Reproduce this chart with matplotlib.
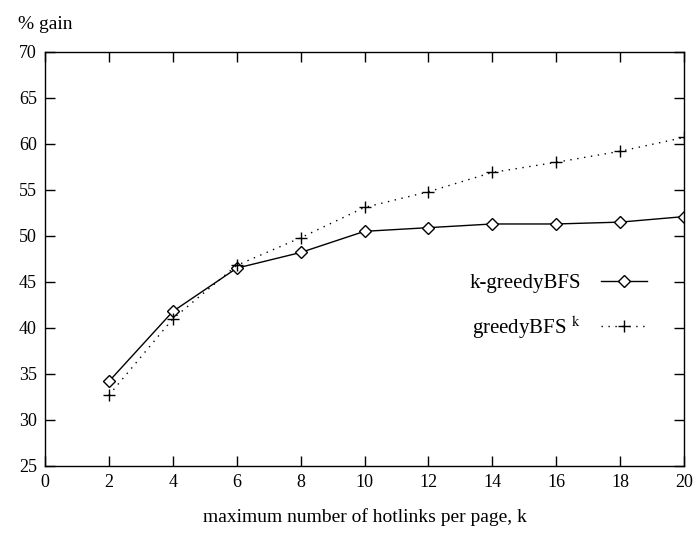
import matplotlib
matplotlib.use("Agg")
import matplotlib.pyplot as plt

k_values = [2, 4, 6, 8, 10, 12, 14, 16, 18, 20]
kgreedy_bfs = [34.2, 41.8, 46.5, 48.2, 50.5, 50.9, 51.3, 51.3, 51.5, 52.1]
greedy_bfs_k = [32.7, 41.0, 46.8, 49.8, 53.1, 54.8, 56.9, 58.0, 59.2, 60.7]

x_ticks = list(range(0, 21, 2))
y_ticks = list(range(25, 71, 5))

plt.rcParams["font.family"] = ["Liberation Serif", "DejaVu Serif"]
plt.rcParams["mathtext.fontset"] = "stix"

fig = plt.figure(figsize=(6.94, 5.35), dpi=100)
ax = fig.add_axes([0.065, 0.129, 0.9205, 0.774])

ax.plot(k_values, kgreedy_bfs, color="black", linewidth=1.0, marker="D",
        markersize=6, markerfacecolor="white", markeredgecolor="black",
        markeredgewidth=1.0, label="k-greedyBFS")
ax.plot(k_values, greedy_bfs_k, color="black", linewidth=1.0,
        linestyle=(0, (1, 4)), marker="+", markersize=9, markeredgewidth=1.0,
        label="greedyBFS $^{\\mathrm{k}}$")

ax.set_xlim(0, 20)
ax.set_ylim(25, 70)
ax.set_xticks(x_ticks)
ax.set_yticks(y_ticks)
ax.tick_params(direction="in", length=7, width=1, top=True, right=True,
               labelsize=13, pad=6)
for s in ax.spines.values():
    s.set_linewidth(1.0)

ax.set_xlabel("maximum number of hotlinks per page, k", fontsize=14, labelpad=12)
fig.text(0.026, 0.955, "% gain", fontsize=14, ha="left", va="center")

leg = ax.legend(loc="center right", bbox_to_anchor=(0.972, 0.384), frameon=False,
                markerfirst=False, fontsize=15, handlelength=2.2,
                labelspacing=1.0, handletextpad=1.0)
for t in leg.get_texts():
    t.set_ha("right")

fig.savefig("out.png", dpi=100)
